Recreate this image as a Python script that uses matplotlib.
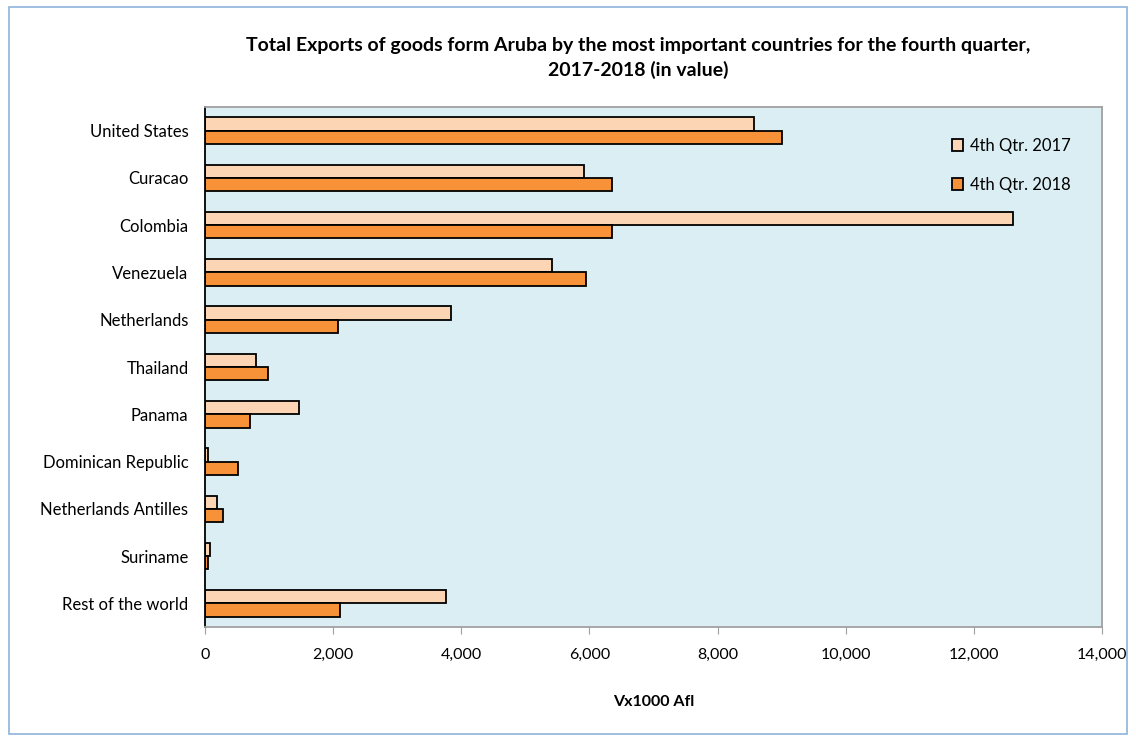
import matplotlib.pyplot as plt
import numpy as np
from matplotlib.patches import Rectangle
from matplotlib.ticker import FuncFormatter

plt.rcParams['font.family'] = ['Lato', 'DejaVu Sans']

countries = ['United States', 'Curacao', 'Colombia', 'Venezuela', 'Netherlands',
             'Thailand', 'Panama', 'Dominican Republic', 'Netherlands Antilles',
             'Suriname', 'Rest of the world']
q4_2017 = [8565, 5910, 12615, 5415, 3832, 790, 1473, 52, 187, 83, 3754]
q4_2018 = [9002, 6351, 6350, 5940, 2082, 984, 708, 520, 275, 52, 2108]

fig = plt.figure(figsize=(11.36, 7.4), dpi=100)
ax = fig.add_axes([0.1805, 0.1527, 0.7895, 0.7027])
ax.set_facecolor('#DAEEF3')

y = np.arange(len(countries))
h = 0.28
ax.barh(y - h / 2, q4_2017, height=h, color='#FCD5B4', edgecolor='black',
        linewidth=1.3, label='4th Qtr. 2017')
ax.barh(y + h / 2, q4_2018, height=h, color='#F79238', edgecolor='black',
        linewidth=1.3, label='4th Qtr. 2018')

ax.set_ylim(len(countries) - 0.5, -0.5)
ax.set_xlim(0, 14000)
ax.set_xticks(range(0, 14001, 2000))
ax.xaxis.set_major_formatter(FuncFormatter(lambda v, p: f'{int(v):,}'))
ax.set_yticks(y)
ax.set_yticklabels(countries, fontsize=12)
ax.tick_params(axis='y', length=0, pad=12)
ax.tick_params(axis='x', length=5, color='#A0A0A0', labelsize=11.5, pad=10)

for s in ['top', 'right', 'bottom']:
    ax.spines[s].set_color('#A0A0A0')
    ax.spines[s].set_linewidth(1.3)
ax.spines['left'].set_color('black')
ax.spines['left'].set_linewidth(1.3)

ax.set_xlabel('Vx1000 Afl', fontsize=11.5, fontweight='bold', labelpad=24)

leg = ax.legend(loc='upper right', bbox_to_anchor=(0.982, 0.97), frameon=False,
                fontsize=12, handlelength=0.7, handleheight=0.7,
                handletextpad=0.4, labelspacing=1.4)

fig.text(0.562, 0.922,
         'Total Exports of goods form Aruba by the most important countries for the fourth quarter,\n2017-2018 (in value)',
         ha='center', va='center', fontsize=14, fontweight='bold', linespacing=1.45)

fig.patches.append(Rectangle((0.008, 0.008), 0.984, 0.982, transform=fig.transFigure,
                             fill=False, edgecolor='#8FB3DA', linewidth=1.2))

fig.savefig('out.png', dpi=100)
